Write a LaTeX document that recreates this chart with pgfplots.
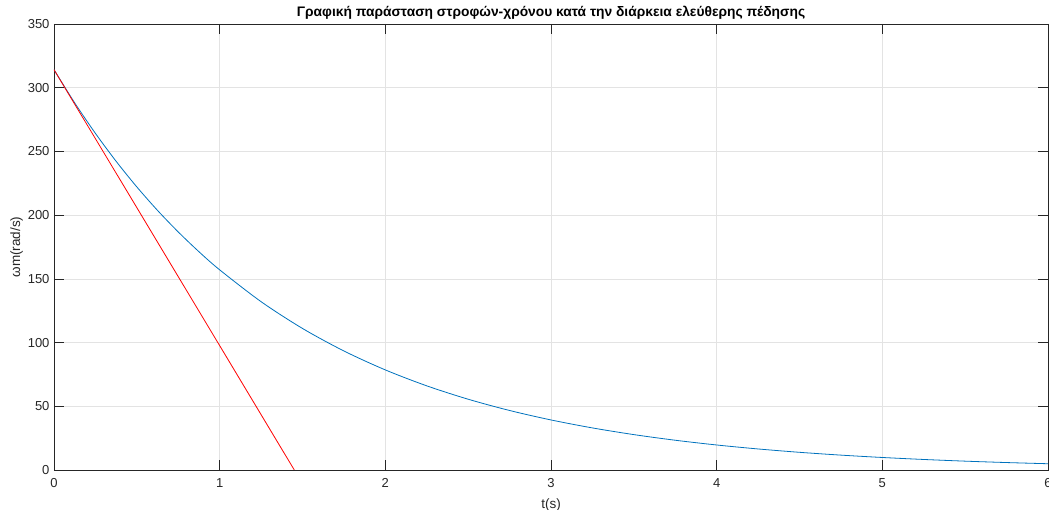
\documentclass[border=0pt]{standalone}
\usepackage{fontspec}
\setmainfont{Liberation Sans}
\usepackage{pgfplots}
\pgfplotsset{compat=1.18}
\definecolor{mblue}{rgb}{0,0.447,0.741}
\definecolor{axgray}{HTML}{262626}
\definecolor{gridgray}{HTML}{E3E3E3}
\begin{document}
\begin{tikzpicture}
\begin{axis}[
  at={(0pt,0pt)}, anchor=south west,
  scale only axis, width=994pt, height=446pt,
  xmin=0, xmax=6, ymin=0, ymax=350,
  xtick={0,1,2,3,4,5,6}, ytick={0,50,100,150,200,250,300,350},
  grid=major,
  major grid style={gridgray, line width=0.6pt},
  axis line style={axgray, line width=0.6pt},
  tick style={axgray, line width=0.6pt},
  tick align=inside, major tick length=10pt,
  every tick label/.append style={font=\fontsize{13}{15}\selectfont, text=axgray},
  xticklabel style={yshift=-5pt},
  yticklabel style={xshift=-1pt},
  /pgf/number format/assume math mode=true,
  xlabel={t(s)}, ylabel={ωm(rad/s)},
  every axis label/.append style={font=\fontsize{13.5}{15}\selectfont, text=axgray},
  xlabel style={yshift=-4pt},
  ylabel style={yshift=-2pt},
  title={\bfseries Γραφική παράσταση στροφών-χρόνου κατά την διάρκεια ελεύθερης πέδησης},
  title style={font=\fontsize{13.8}{15}\selectfont, yshift=-5pt},
]
\addplot[mblue, line width=0.8pt, smooth] coordinates {
(0,314.16) (0.125,288.08) (0.25,264.17) (0.375,242.25) (0.5,222.14) (0.625,203.70)
(0.75,186.80) (0.875,171.29) (1,157.08) (1.25,132.09) (1.5,111.07) (1.75,93.40)
(2,78.54) (2.25,66.04) (2.5,55.54) (2.75,46.70) (3,39.27) (3.25,33.02)
(3.5,27.77) (3.75,23.35) (4,19.63) (4.25,16.51) (4.5,13.88) (4.75,11.67)
(5,9.82) (5.25,8.26) (5.5,6.94) (5.75,5.84) (6,4.91)
};
\addplot[red, line width=0.8pt] coordinates {(0,314.16) (1.4506,0)};
\end{axis}
\pgfresetboundingbox
\path[use as bounding box] (-54pt,-40pt) rectangle (995pt,470pt);
\end{tikzpicture}
\end{document}
